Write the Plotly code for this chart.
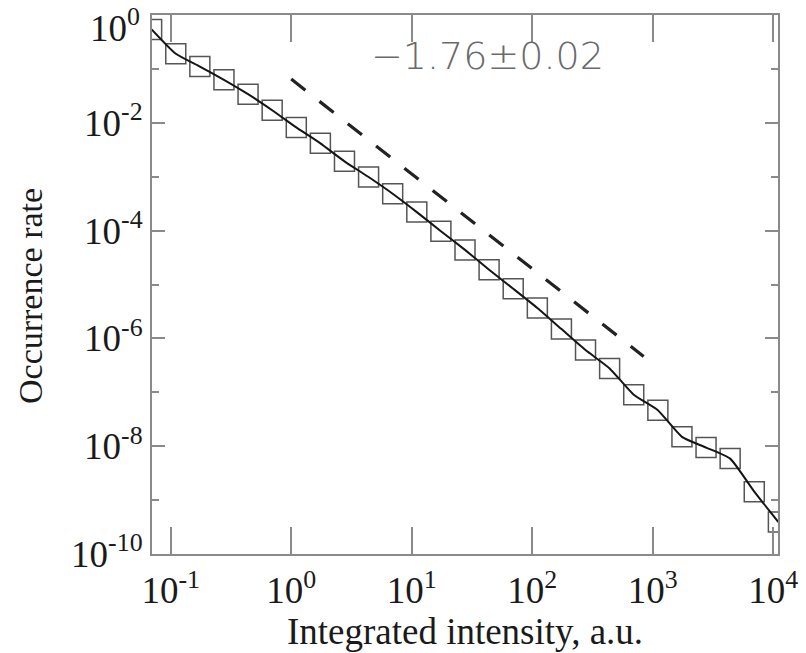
import plotly.graph_objects as go

# ---- data ----
intensity = [0.0695, 0.1102, 0.1746, 0.2767, 0.4385, 0.695, 1.102, 1.746, 2.767,
             4.385, 6.95, 11.02, 17.46, 27.67, 43.85, 69.5, 110.2, 174.6, 276.7,
             438.5, 695.0, 1102.0, 1746.0, 2767.0, 4385.0, 6950.0, 11020.0]
occurrence = [0.542, 0.1914, 0.1112, 0.0630, 0.0341, 0.01718, 0.00824, 0.00417,
              0.001936, 9.89e-4, 4.84e-4, 2.21e-4, 9.79e-5, 4.40e-5, 1.884e-5,
              8.36e-6, 3.67e-6, 1.493e-6, 6.08e-7, 2.78e-7, 9.02e-8, 4.66e-8,
              1.493e-8, 9.44e-9, 5.89e-9, 1.435e-9, 3.92e-10]
fit_x = [1.0, 840.0]
fit_y = [0.0649, 4.63e-7]
fit_label = "\u22121.76\u00b10.02"

x_tickvals = [0.1, 1, 10, 100, 1000, 10000]
x_ticktext = ["10<sup>-1</sup>", "10<sup>0</sup>", "10<sup>1</sup>",
              "10<sup>2</sup>", "10<sup>3</sup>", "10<sup>4</sup>"]
y_tickvals = [1, 1e-2, 1e-4, 1e-6, 1e-8, 1e-10]
y_ticktext = ["10<sup>0</sup>", "10<sup>-2</sup>", "10<sup>-4</sup>",
              "10<sup>-6</sup>", "10<sup>-8</sup>", "10<sup>-10</sup>"]
y_minorvals = [1e-1, 1e-3, 1e-5, 1e-7, 1e-9]

SERIF = "Liberation Serif, Times New Roman, serif"
AXIS_GRAY = "#8a8a8a"
TXT = "#1a1a1a"

fig = go.Figure()
fig.add_trace(go.Scatter(
    x=intensity, y=occurrence, mode="markers",
    marker=dict(symbol="square-open", size=20, color="#555555",
                line=dict(width=1.5, color="#555555")),
    showlegend=False, hoverinfo="skip"))
fig.add_trace(go.Scatter(
    x=intensity, y=occurrence, mode="lines",
    line=dict(color="#151515", width=2, shape="spline", smoothing=0.5),
    showlegend=False))
fig.add_trace(go.Scatter(
    x=fit_x, y=fit_y, mode="lines",
    line=dict(color="#222222", width=3.2, dash="18px,18px"),
    showlegend=False))

fig.add_annotation(
    text=fit_label, xref="paper", yref="paper", x=0.536, y=0.9245,
    xanchor="center", yanchor="middle", showarrow=False,
    font=dict(family="DejaVu Sans", size=38, color="#6a6a6a", weight=200))
fig.add_annotation(
    text="Occurrence rate", xref="paper", yref="paper",
    x=(30 - 152) / 626, y=(553.6 - 296) / 538.2, textangle=-90,
    xanchor="center", yanchor="middle", showarrow=False,
    font=dict(family=SERIF, size=34, color=TXT))
# top y tick label, nudged down so that it stays inside the page
fig.add_annotation(
    text=y_ticktext[0], xref="paper", yref="paper",
    x=(142 - 152) / 626, y=(553.6 - 26) / 538.2,
    xanchor="right", yanchor="middle", showarrow=False,
    font=dict(family=SERIF, size=37, color=TXT))

fig.update_xaxes(
    type="log", range=[-1.155, 4.039], automargin=False,
    tickmode="array", tickvals=x_tickvals, ticktext=x_ticktext,
    ticks="inside", ticklen=27, tickwidth=1.5, tickcolor=AXIS_GRAY,
    showline=True, linecolor=AXIS_GRAY, linewidth=2, mirror="ticks",
    showgrid=False, zeroline=False, ticklabelstandoff=3,
    ticklabeloverflow="allow",
    tickfont=dict(family=SERIF, size=37, color=TXT),
    title=dict(text="Integrated intensity, a.u.", standoff=2,
               font=dict(family=SERIF, size=37, color=TXT)))
fig.update_yaxes(
    type="log", range=[-10, 0.002], automargin=False,
    tickmode="array", tickvals=y_tickvals, ticktext=[""] + y_ticktext[1:],
    ticks="inside", ticklen=13, tickwidth=1.5, tickcolor=AXIS_GRAY,
    minor=dict(tickmode="array", tickvals=y_minorvals, ticks="inside",
               ticklen=7, tickwidth=1.5, tickcolor=AXIS_GRAY),
    showline=True, linecolor=AXIS_GRAY, linewidth=2, mirror="ticks",
    showgrid=False, zeroline=False, ticklabeloverflow="allow",
    tickfont=dict(family=SERIF, size=37, color=TXT))

fig.update_layout(
    width=806, height=653,
    margin=dict(l=152, r=28, t=15, b=99, pad=0, autoexpand=False),
    paper_bgcolor="white", plot_bgcolor="white")

fig.write_html("out.html")
